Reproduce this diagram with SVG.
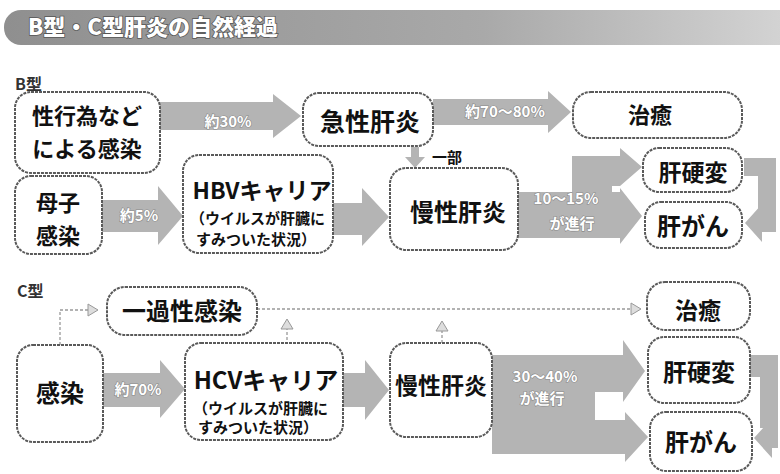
<svg xmlns="http://www.w3.org/2000/svg" width="780" height="474" viewBox="0 0 780 474">
<defs>
<linearGradient id="tg" x1="0" y1="0" x2="1" y2="0">
<stop offset="0" stop-color="#8f8f8f"/>
<stop offset="0.6" stop-color="#a9a9a9"/>
<stop offset="1" stop-color="#d6d6d6"/>
</linearGradient>
<marker id="tri" viewBox="0 0 12 14" refX="1" refY="7" markerWidth="12" markerHeight="14" markerUnits="userSpaceOnUse" orient="auto">
<path d="M1,1 L11,7 L1,13 Z" fill="#ddd" stroke="#999" stroke-width="1"/>
</marker>
</defs>
<style>
.box{fill:#fff;stroke:#5a5a5a;stroke-width:2;stroke-dasharray:3 1}
.t{font-family:"Noto Sans CJK JP","Noto Sans",sans-serif;font-weight:700;fill:#111;text-anchor:middle}
.s{font-family:"Noto Sans CJK JP","Noto Sans",sans-serif;font-weight:700;fill:#111;font-size:15px}
.arr{fill:#b4b4b4}
.lb{font-family:"Noto Sans CJK JP","Noto Sans",sans-serif;font-weight:700;fill:#fff;font-size:15px;text-anchor:middle;stroke:#8a8a8a;stroke-width:1.2;paint-order:stroke}
.dash{fill:none;stroke:#999;stroke-width:1.3;stroke-dasharray:3 2}
.hd{font-family:"Noto Sans CJK JP","Noto Sans",sans-serif;font-weight:700;fill:#333;font-size:16px}
</style>
<rect width="780" height="474" fill="#fff"/>
<g id="title">
<rect x="4" y="10" width="800" height="35" rx="17" fill="url(#tg)"/>
<text x="28" y="35" font-family="'Noto Sans CJK JP','Noto Sans',sans-serif" font-weight="900" font-size="22" fill="#fff" stroke="#555" stroke-width="1.5" paint-order="stroke">B型・C型肝炎の自然経過</text>
</g>
<text class="hd" x="15" y="90">B型</text>
<text class="hd" x="17" y="297">C型</text>
<g id="connectors">
<polygon class="arr" points="160,102 273,102 273,94 301,116 273,138 273,130 160,130"/>
<text class="lb" x="228" y="127">約30%</text>
<polygon class="arr" points="433,99 548,99 548,91 571,112 548,133 548,125 433,125"/>
<text class="lb" x="505" y="117">約70〜80%</text>
<polygon class="arr" points="102,200 158,200 158,186 183,216 158,245 158,232 102,232"/>
<text class="lb" x="139" y="221">約5%</text>
<polygon class="arr" points="333,203 362,203 362,188 389,217 362,246 362,235 333,235"/>
<polygon class="arr" points="411,147 419,147 419,157 425,157 415,168 405,157 411,157"/>
<text class="s" x="432" y="163">一部</text>
<polygon class="arr" points="518,192 620,192 620,188 642,216 620,244 620,238 518,238"/>
<polygon class="arr" points="572,215 572,156 620,156 620,148 642,167 620,186 612,186 612,215"/>
<text class="lb" x="566" y="204" font-size="16">10〜15%</text>
<text class="lb" x="572" y="229" font-size="16">が進行</text>
<polygon class="arr" points="744,158 776,158 776,232 762,232 762,242 745,223 762,204 762,214 758,214 758,176 744,176"/>
<path class="dash" d="M60,345 V310 H88" marker-end="url(#tri)"/>
<path class="dash" d="M257,309 H631" marker-end="url(#tri)"/>
<path class="dash" d="M287,345 V329" marker-end="url(#tri)"/>
<path class="dash" d="M442,343 V331" marker-end="url(#tri)"/>
<polygon class="arr" points="103,373 160,373 160,360 185,389 160,418 160,407 103,407"/>
<text class="lb" x="138" y="395">約70%</text>
<polygon class="arr" points="343,373 365,373 365,360 389,390 365,420 365,407 343,407"/>
<polygon class="arr" points="492,355 623,355 623,340 645,371 623,402 623,392 595,392 595,420 625,420 625,412 648,437 625,462 625,454 492,454"/>
<text class="lb" x="545" y="382" font-size="16">30〜40%</text>
<text class="lb" x="542" y="404" font-size="16">が進行</text>
<polygon class="arr" points="750,355 778,355 778,448 772,448 772,458 754,438 772,418 772,428 760,428 760,377 750,377"/>
</g>
<g id="b_sex"><rect class="box" x="15" y="92" width="145" height="81" rx="16"/><text class="t" x="87" y="124" font-size="22">性行為など</text><text class="t" x="87" y="157" font-size="22">による感染</text></g>
<g id="b_acute"><rect class="box" x="303" y="93" width="130" height="53" rx="16"/><text class="t" x="370" y="131" font-size="25">急性肝炎</text></g>
<g id="b_cure"><rect class="box" x="573" y="92" width="169" height="46" rx="18"/><text class="t" x="650" y="123" font-size="22">治癒</text></g>
<g id="b_mother"><rect class="box" x="15" y="176" width="87" height="78" rx="16"/><text class="t" x="58" y="211" font-size="22">母子</text><text class="t" x="58" y="244" font-size="22">感染</text></g>
<g id="b_hbv"><rect class="box" x="183" y="155" width="150" height="98" rx="16"/><text class="t" x="262" y="199" font-size="23">HBVキャリア</text><text class="s" x="190" y="224">（ウイルスが肝臓に</text><text class="s" x="196" y="245">すみついた状況）</text></g>
<g id="b_chronic"><rect class="box" x="390" y="168" width="128" height="82" rx="16"/><text class="t" x="458" y="221" font-size="24">慢性肝炎</text></g>
<g id="b_cirr"><rect class="box" x="643" y="148" width="99" height="44" rx="16"/><text class="t" x="693" y="181" font-size="23">肝硬変</text></g>
<g id="b_cancer"><rect class="box" x="645" y="202" width="97" height="46" rx="16"/><text class="t" x="693" y="235" font-size="24">肝がん</text></g>
<g id="c_transient"><rect class="box" x="107" y="287" width="150" height="48" rx="18"/><text class="t" x="182" y="320" font-size="24">一過性感染</text></g>
<g id="c_cure"><rect class="box" x="647" y="282" width="103" height="48" rx="18"/><text class="t" x="698" y="319" font-size="23">治癒</text></g>
<g id="c_infect"><rect class="box" x="17" y="345" width="86" height="97" rx="16"/><text class="t" x="60" y="402" font-size="24">感染</text></g>
<g id="c_hcv"><rect class="box" x="185" y="343" width="158" height="97" rx="16"/><text class="t" x="266" y="389" font-size="24">HCVキャリア</text><text class="s" x="193" y="414">（ウイルスが肝臓に</text><text class="s" x="198" y="433">すみついた状況）</text></g>
<g id="c_chronic"><rect class="box" x="390" y="343" width="102" height="94" rx="16"/><text class="t" x="441" y="394" font-size="23">慢性肝炎</text></g>
<g id="c_cirr"><rect class="box" x="648" y="337" width="102" height="66" rx="16"/><text class="t" x="699" y="381" font-size="24">肝硬変</text></g>
<g id="c_cancer"><rect class="box" x="650" y="412" width="102" height="59" rx="16"/><text class="t" x="701" y="451" font-size="24">肝がん</text></g>
</svg>
